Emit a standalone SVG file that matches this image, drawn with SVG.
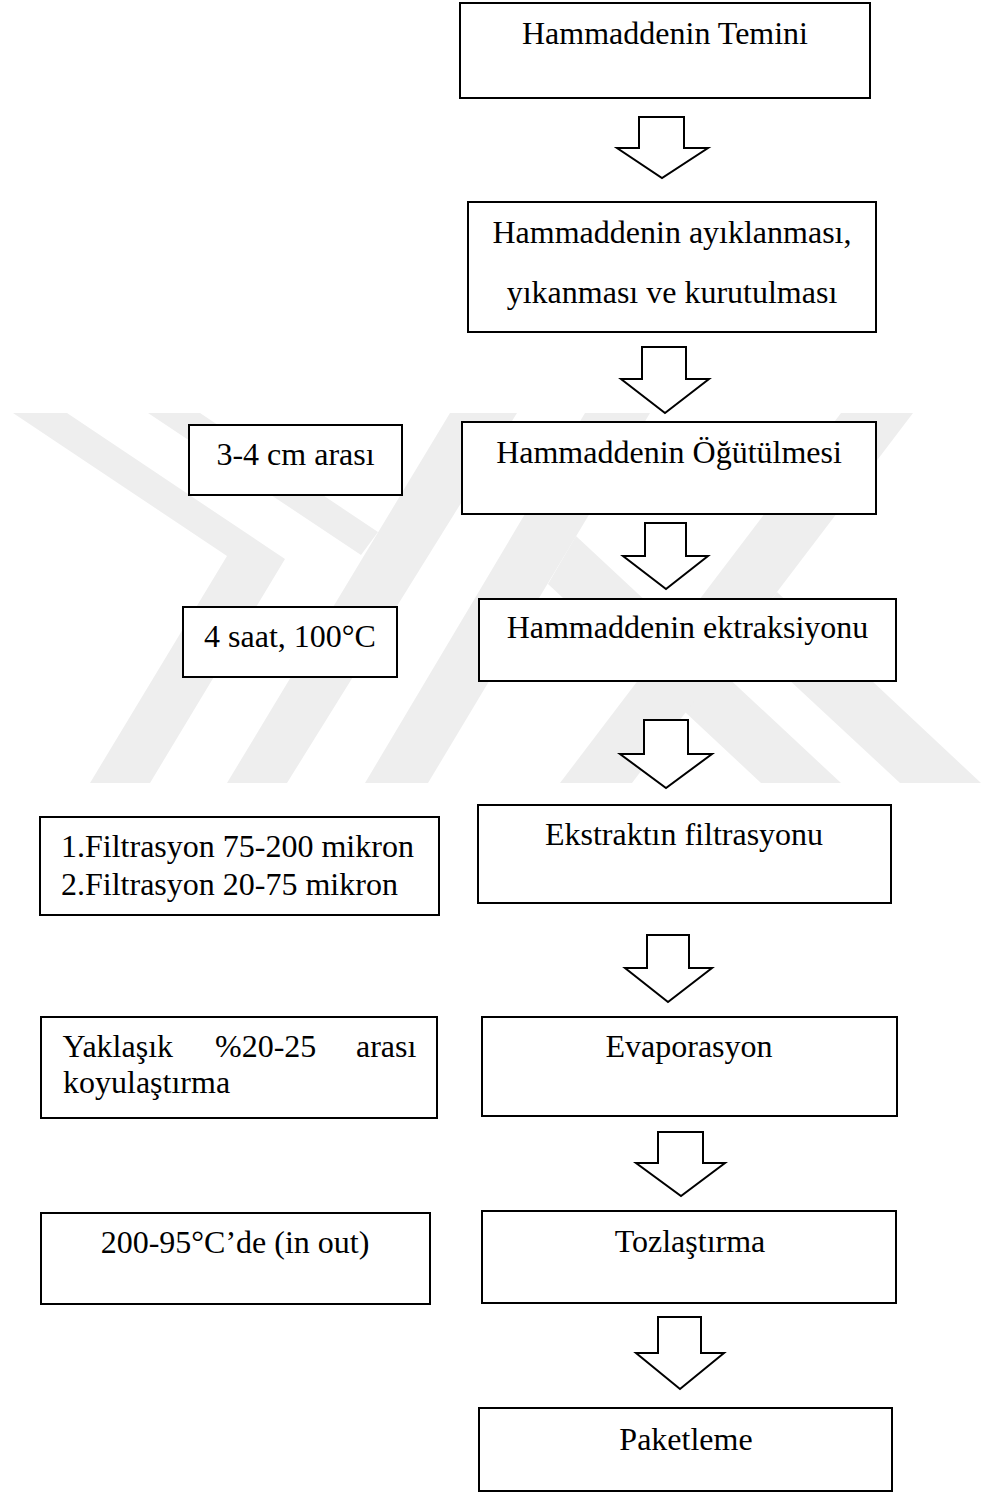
<svg xmlns="http://www.w3.org/2000/svg" width="981" height="1492" viewBox="0 0 981 1492">
<style>
.wm{fill:#eeeeee;stroke:none}
.box{fill:#ffffff;stroke:#000000;stroke-width:2}
.arrow{fill:#ffffff;stroke:#000000;stroke-width:2;stroke-linejoin:miter}
.t{font-family:"Liberation Serif","Times New Roman",serif;font-size:32px;fill:#000000}
.c{text-anchor:middle}
</style>
<defs>
<clipPath id="wmclip"><rect x="0" y="413" width="981" height="370"/></clipPath>
</defs>
<rect x="0" y="0" width="981" height="1492" fill="#ffffff"/>
<g id="watermark" clip-path="url(#wmclip)">
<polygon class="wm" points="13,413 67,413 285,559 150,783 90,783 227,556"/>
<polygon class="wm" points="148,413 200,413 378,532 361,555"/>
<polygon class="wm" points="227,783 287,783 517,413 450,413"/>
<polygon class="wm" points="365,783 428,783 650,413 585,413"/>
<polygon class="wm" points="761,783 841,783 576,536 548,584"/>
<polygon class="wm" points="560,783 632,783 913,413 841,413"/>
<polygon class="wm" points="900,783 981,783 777,592 743,637"/>
</g>
<g id="connectors">
<path class="arrow" d="M639,117 H684 V148 H708 L662,178 L617,148 H639 Z"/>
<path class="arrow" d="M642,347 H686 V379 H709 L665,413 L621,379 H642 Z"/>
<path class="arrow" d="M645,523 H686 V556 H708 L666,589 L623,556 H645 Z"/>
<path class="arrow" d="M644,720 H688 V754 H712 L666,788 L620,754 H644 Z"/>
<path class="arrow" d="M647,935 H689 V968 H712 L668,1002 L625,968 H647 Z"/>
<path class="arrow" d="M658,1132 H703 V1163 H725 L681,1196 L636,1163 H658 Z"/>
<path class="arrow" d="M658,1317 H701 V1353 H724 L680,1389 L636,1353 H658 Z"/>
</g>
<g id="n1"><rect class="box" x="460" y="3" width="410" height="95"/><text class="t c" x="665" y="44">Hammaddenin Temini</text></g>
<g id="n2"><rect class="box" x="468" y="202" width="408" height="130"/><text class="t c" x="672" y="243">Hammaddenin ayıklanması,</text><text class="t c" x="672" y="303">yıkanması ve kurutulması</text></g>
<g id="n3"><rect class="box" x="462" y="422" width="414" height="92"/><text class="t c" x="669" y="463">Hammaddenin Öğütülmesi</text></g>
<g id="l1"><rect class="box" x="189" y="425" width="213" height="70"/><text class="t c" x="295.5" y="465">3-4 cm arası</text></g>
<g id="n4"><rect class="box" x="479" y="599" width="417" height="82"/><text class="t c" x="687.5" y="638">Hammaddenin ektraksiyonu</text></g>
<g id="l2"><rect class="box" x="183" y="607" width="214" height="70"/><text class="t c" x="290" y="647">4 saat, 100°C</text></g>
<g id="n5"><rect class="box" x="478" y="805" width="413" height="98"/><text class="t c" x="684" y="845">Ekstraktın filtrasyonu</text></g>
<g id="l3"><rect class="box" x="40" y="817" width="399" height="98"/><text class="t" x="61" y="857">1.Filtrasyon 75-200 mikron</text><text class="t" x="61" y="895">2.Filtrasyon 20-75 mikron</text></g>
<g id="n6"><rect class="box" x="482" y="1017" width="415" height="99"/><text class="t c" x="689" y="1057">Evaporasyon</text></g>
<g id="l4"><rect class="box" x="41" y="1017" width="396" height="101"/><text class="t" y="1057"><tspan x="62.5">Yaklaşık</tspan><tspan x="215">%20-25</tspan><tspan x="356">arası</tspan></text><text class="t" x="63" y="1093">koyulaştırma</text></g>
<g id="n7"><rect class="box" x="482" y="1211" width="414" height="92"/><text class="t c" x="690" y="1252">Tozlaştırma</text></g>
<g id="l5"><rect class="box" x="41" y="1213" width="389" height="91"/><text class="t c" x="235" y="1253">200-95°C’de (in out)</text></g>
<g id="n8"><rect class="box" x="479" y="1408" width="413" height="83"/><text class="t c" x="686" y="1450">Paketleme</text></g>
</svg>
